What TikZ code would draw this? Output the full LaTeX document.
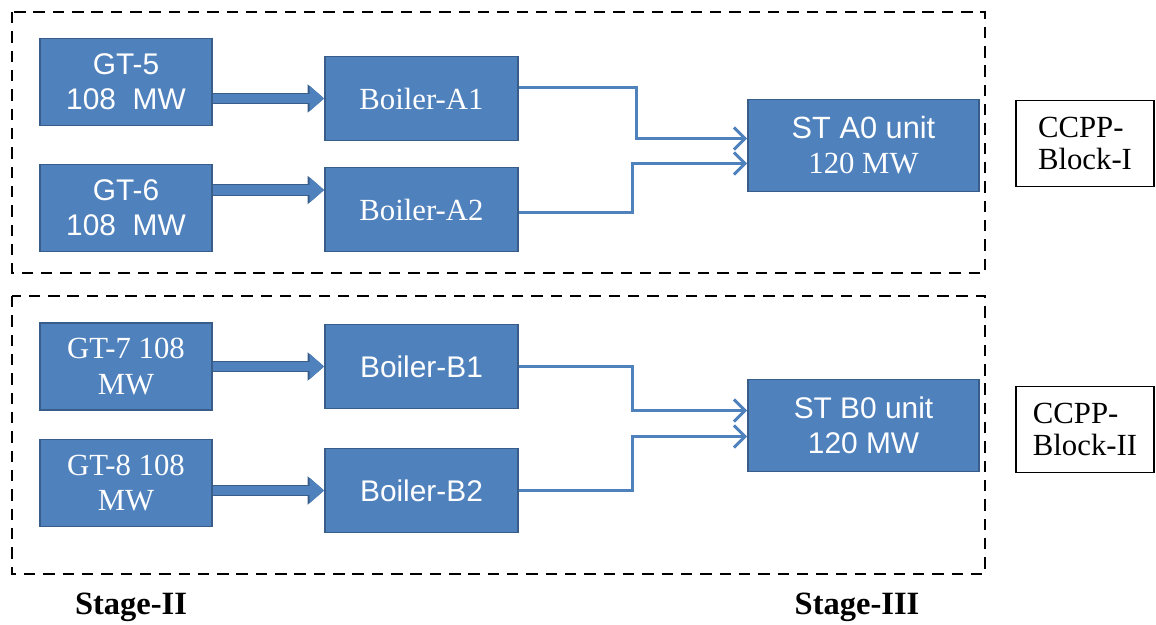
\documentclass[tikz,border=0pt]{standalone}
\usepackage{fontspec}
\setmainfont{Liberation Serif}
\setsansfont{Liberation Sans}
\usetikzlibrary{positioning,arrows.meta,calc}
\definecolor{boxblue}{HTML}{4F81BD}
\definecolor{boxedge}{HTML}{385D8A}

\begin{document}
\begin{tikzpicture}[x=0.02cm,y=-0.02cm,font=\fontsize{17.5}{20}\selectfont,
  unit/.style={rectangle,draw=boxedge,line width=1.1pt,fill=boxblue,text=white,align=center,inner sep=2pt},
  sans/.style={font=\sffamily\fontsize{17}{20}\selectfont},
  gt/.style={unit,minimum width=3.44cm,minimum height=1.74cm},
  blr/.style={unit,minimum width=3.86cm,minimum height=1.68cm},
  st/.style={unit,minimum width=4.62cm,minimum height=1.84cm},
  blk/.style={rectangle,draw=black,line width=0.8pt,align=left,minimum width=2.76cm,minimum height=1.72cm,inner sep=4pt,font=\fontsize{17.5}{18}\selectfont},
  frame/.style={draw=black,line width=1.4pt,dash pattern=on 6.5pt off 4.5pt},
  fat/.style={draw=boxblue,line width=5.2pt,-{Triangle[length=2.9mm,width=5.1mm,line width=0pt]},
    preaction={draw=boxedge,line width=6.8pt,-{Triangle[length=3.3mm,width=5.7mm,line width=0pt]}}},
  ln/.style={draw=boxblue,line width=1.7pt,-{Straight Barb[length=2.2mm,width=4.4mm]}},
  stage/.style={font=\fontsize{18.5}{20}\selectfont\bfseries}]
\useasboundingbox (0,0) rectangle (1156,625);
% block frames
\draw[frame] (12,12) rectangle (985,273);
\draw[frame] (12,296) rectangle (985,574);
% block I
\node[gt,sans](gt5) at (126,82) {GT-5\\108\ \ MW};
\node[gt,sans](gt6) at (126,208) {GT-6\\108\ \ MW};
\node[blr](ba1) at (421.5,98.5) {Boiler-A1};
\node[blr](ba2) at (421.5,209.5) {Boiler-A2};
\node[st](sta) at (863.5,145.5) {{\sffamily ST A0 unit}\\120 MW};
\node[blk](blki) at (1085,143.5) {CCPP-\\Block-I};
% block II
\node[gt](gt7) at (126,366.5) {GT-7 108\\MW};
\node[gt](gt8) at (126,483) {GT-8 108\\MW};
\node[blr,sans](bb1) at (421.5,366.5) {Boiler-B1};
\node[blr,sans](bb2) at (421.5,490.5) {Boiler-B2};
\node[st,sans](stb) at (863.5,425.5) {ST B0 unit\\120 MW};
\node[blk](blkii) at (1085,429.5) {CCPP-\\Block-II};
% stages
\node[stage](s2) at (131,607) {Stage-II};
\node[stage](s3) at (857,607) {Stage-III};
% gas turbine to boiler
\coordinate (g6) at ($(gt6.east)+(0,-18)$);
\draw[fat] (ba1.west -| gt5.east) -- (ba1.west);
\draw[fat] (g6) -- (g6 -| ba2.west);
\draw[fat] (gt7.east) -- (gt7.east -| bb1.west);
\draw[fat] (bb2.west -| gt8.east) -- (bb2.west);
% boiler to steam turbine
\draw[ln] ($(ba1.east)+(0,-11)$) -- ++(118,0) |- ($(sta.west)+(0,-7)$);
\draw[ln] ($(ba2.east)+(0,3)$) -- ++(114,0) |- ($(sta.west)+(0,18)$);
\draw[ln] (bb1.east) -- ++(114,0) |- ($(stb.west)+(0,-15)$);
\draw[ln] (bb2.east) -- ++(114,0) |- ($(stb.west)+(0,11)$);
\end{tikzpicture}
\end{document}
